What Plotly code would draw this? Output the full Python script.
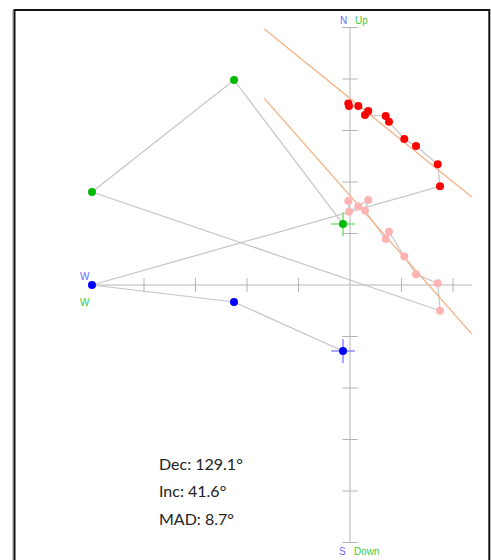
import plotly.graph_objects as go

# ---- data (tick units) ----
east = [-0.136, -2.252, -5.010, 1.748, 1.703, 1.282, 1.054, 0.757, 0.693, 0.291, 0.355, 0.161, -0.019, -0.033]
north = [-1.282, -0.330, 0.000, 1.917, 2.344, 2.699, 2.835, 3.171, 3.282, 3.301, 3.379, 3.476, 3.476, 3.524]
up = [1.184, 3.981, 1.806, -0.499, 0.033, 0.208, 0.553, 1.035, 0.893, 1.447, 1.650, 1.524, 1.423, 1.631]
n_unselected = 3

fit_x = [-1.664, 2.363]
fit_h = [4.969, 1.707]
fit_v = [3.625, -0.950]

axis_x_ext = [-5.01, 2.363]
axis_y_ext = [-5.0, 5.0]
x_ticks = [-4, -3, -2, -1, 1, 2]
y_ticks = [-5, -4, -3, -2, -1, 1, 2, 3, 4, 5]

stats = ["Dec: 129.1°", "Inc: 41.6°", "MAD: 8.7°"]

W, H = 491, 560
SC = 51.5            # pixels per tick unit
OX, OY = 350, 285    # origin in figure pixels

AX = "#b4b4b4"
fig = go.Figure()

# axes
fig.add_trace(go.Scatter(x=axis_x_ext, y=[0, 0], mode="lines", line=dict(color=AX, width=1), hoverinfo="skip"))
fig.add_trace(go.Scatter(x=[0, 0], y=axis_y_ext, mode="lines", line=dict(color=AX, width=1), hoverinfo="skip"))
fig.add_trace(go.Scatter(x=x_ticks, y=[0] * len(x_ticks), mode="markers",
                         marker=dict(symbol="line-ns-open", size=10, color=AX, line=dict(color=AX, width=1)),
                         hoverinfo="skip"))
fig.add_trace(go.Scatter(x=[0] * len(y_ticks), y=y_ticks, mode="markers",
                         marker=dict(symbol="line-ew-open", size=11, color=AX, line=dict(color=AX, width=1)),
                         hoverinfo="skip"))

# connecting lines
fig.add_trace(go.Scatter(x=east, y=north, mode="lines", line=dict(color="#c4c4c4", width=1.2), hoverinfo="skip"))
fig.add_trace(go.Scatter(x=east, y=up, mode="lines", line=dict(color="#c4c4c4", width=1.2), hoverinfo="skip"))

# fit lines
fig.add_trace(go.Scatter(x=fit_x, y=fit_h, mode="lines", line=dict(color="#f4b183", width=1.3), hoverinfo="skip"))
fig.add_trace(go.Scatter(x=fit_x, y=fit_v, mode="lines", line=dict(color="#f4b183", width=1.3), hoverinfo="skip"))

# first-step crosses
fig.add_trace(go.Scatter(x=east[:1], y=north[:1], mode="markers",
                         marker=dict(symbol="cross-thin-open", size=17, color="#8c8cff",
                                     line=dict(color="#8c8cff", width=1.5)), hoverinfo="skip"))
fig.add_trace(go.Scatter(x=east[:1], y=up[:1], mode="markers",
                         marker=dict(symbol="cross-thin-open", size=17, color="#7ee07e",
                                     line=dict(color="#7ee07e", width=1.5)), hoverinfo="skip"))

# points
k = n_unselected
fig.add_trace(go.Scatter(x=east[:k], y=north[:k], mode="markers", marker=dict(color="#0000ff", size=8), hoverinfo="skip"))
fig.add_trace(go.Scatter(x=east[:k], y=up[:k], mode="markers", marker=dict(color="#00bb00", size=8), hoverinfo="skip"))
fig.add_trace(go.Scatter(x=east[k:], y=north[k:], mode="markers", marker=dict(color="#ff0000", size=8), hoverinfo="skip"))
fig.add_trace(go.Scatter(x=east[k:], y=up[k:], mode="markers", marker=dict(color="#ffb4b4", size=8), hoverinfo="skip"))

# axis labels
BL = "#6a6aff"
GR = "#3ccc3c"
lab_font = 10
ann = [
    dict(x=0, y=axis_y_ext[1], text="N", color=BL, xs=-7, ys=7),
    dict(x=0, y=axis_y_ext[1], text="Up", color=GR, xs=11, ys=7),
    dict(x=0, y=axis_y_ext[0], text="S", color=BL, xs=-8, ys=-9),
    dict(x=0, y=axis_y_ext[0], text="Down", color=GR, xs=17, ys=-9),
    dict(x=axis_x_ext[0], y=0, text="W", color=BL, xs=-7, ys=9),
    dict(x=axis_x_ext[0], y=0, text="W", color=GR, xs=-7, ys=-17),
]
for a in ann:
    fig.add_annotation(x=a["x"], y=a["y"], text=a["text"], showarrow=False, xshift=a["xs"], yshift=a["ys"],
                       font=dict(family="Liberation Sans", size=lab_font, color=a["color"]))

# stats text
for i, s in enumerate(stats):
    fig.add_annotation(xref="paper", yref="paper", x=157 / W, y=1 - (463 + 27.5 * i) / H, text=s,
                       showarrow=False, xanchor="left", yanchor="middle",
                       font=dict(family="Lato", size=16, color="#222222"))

# frame
fig.add_shape(type="line", xref="paper", yref="paper", x0=12.8 / W, x1=12.8 / W,
              y0=-0.05, y1=1 - 10 / H, line=dict(color="#b0b0b0", width=1))
fig.add_shape(type="rect", xref="paper", yref="paper", x0=14.5 / W, x1=489.3 / W,
              y0=-0.05, y1=1 - 10 / H, line=dict(color="#111111", width=2))

fig.update_layout(
    width=W, height=H,
    margin=dict(l=0, r=0, t=0, b=0),
    paper_bgcolor="white", plot_bgcolor="white",
    showlegend=False,
    hovermode=False,
    xaxis=dict(visible=False, range=[-OX / SC, (W - OX) / SC], fixedrange=True),
    yaxis=dict(visible=False, range=[-(H - OY) / SC, OY / SC], fixedrange=True),
)

fig.write_html("out.html",
               config={"displayModeBar": False, "staticPlot": True},
               post_script="document.body.style.margin='0';document.body.style.overflow='hidden';"
                           "document.documentElement.style.overflow='hidden';")
